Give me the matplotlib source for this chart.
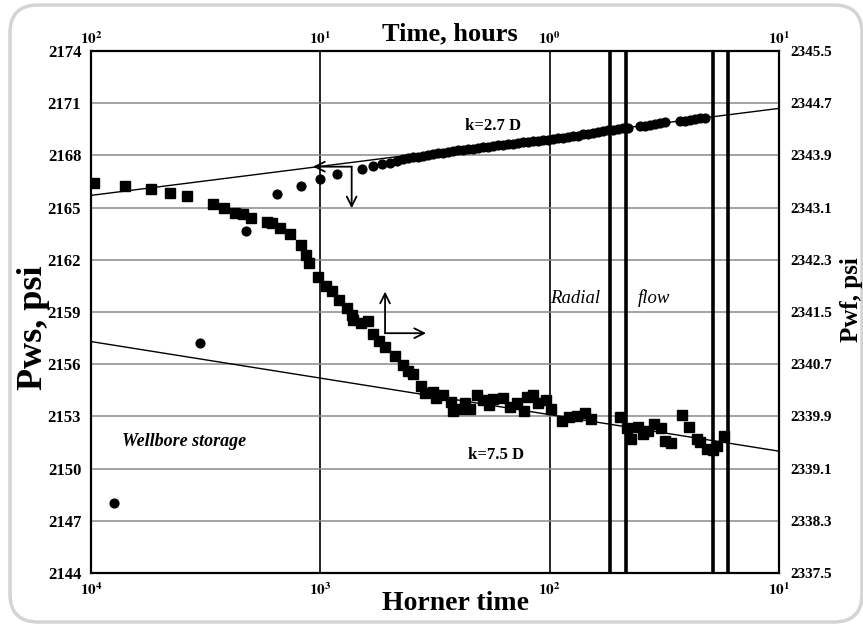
import matplotlib
matplotlib.use('Agg')
import matplotlib.pyplot as plt
from matplotlib.patches import FancyBboxPatch
from matplotlib.ticker import NullLocator
from matplotlib.transforms import IdentityTransform

plt.rcParams['font.family'] = ['Liberation Serif', 'DejaVu Serif']
plt.rcParams['mathtext.fontset'] = 'stix'

# buildup: Horner time vs Pws (left / bottom axes)
circ_h = [7940, 3350, 2100, 1540, 1210, 1000, 850, 660, 587, 540, 497, 464,
          436, 415, 394, 375, 357, 339, 323, 307, 292, 277,
          264, 251, 239, 227, 216, 205, 195, 186, 177, 168,
          160, 152, 144, 137, 131, 124, 118, 112, 107, 102,
          96.6, 91.9, 87.4, 83.1, 79.1, 75.2, 71.5, 68.0, 64.7, 61.5,
          58.5, 55.6, 52.9, 50.3, 47.9, 45.5,
          40.4, 38.4, 36.5, 34.7, 33.0, 31.4,
          27.0, 25.7, 24.4, 23.2, 22.1, 21.0]
circ_p = [2148.0, 2157.24, 2163.67, 2165.76, 2166.26, 2166.63, 2166.93, 2167.22, 2167.41, 2167.49, 2167.58, 2167.68,
          2167.78, 2167.83, 2167.89, 2167.93, 2167.98, 2168.02, 2168.06, 2168.11, 2168.16, 2168.21,
          2168.25, 2168.29, 2168.31, 2168.35, 2168.39, 2168.43, 2168.47, 2168.50, 2168.54, 2168.57,
          2168.60, 2168.64, 2168.67, 2168.71, 2168.75, 2168.78, 2168.81, 2168.84, 2168.86, 2168.89,
          2168.92, 2168.97, 2169.00, 2169.04, 2169.10, 2169.14, 2169.20, 2169.25, 2169.29, 2169.34,
          2169.39, 2169.43, 2169.47, 2169.51, 2169.55, 2169.59,
          2169.66, 2169.70, 2169.75, 2169.80, 2169.86, 2169.90,
          2169.95, 2169.98, 2170.03, 2170.07, 2170.12, 2170.16]

# drawdown: time (hours) vs Pwf (right / top axes)
sq_t = [97.0, 71.1, 54.7, 45.1, 38.0, 29.5, 26.2, 23.6, 21.7, 20.1,
        17.1, 16.2, 15.0, 13.5, 12.1, 11.6, 11.2, 10.2, 9.44, 8.92,
        8.26, 7.67, 7.30, 7.18, 6.66, 6.21, 5.91, 5.53, 5.22, 4.72,
        4.35, 4.16, 3.95, 3.64, 3.49, 3.23, 3.14, 2.93, 2.70, 2.63,
        2.46, 2.34, 2.22, 2.08, 1.95, 1.83, 1.76, 1.59, 1.49, 1.39,
        1.30, 1.25, 1.18, 1.12, 1.04, 0.989, 0.886, 0.821, 0.757, 0.701,
        0.662, 0.493, 0.458, 0.443, 0.410, 0.390, 0.371, 0.350, 0.328, 0.314,
        0.296, 0.265, 0.248, 0.227, 0.221, 0.206, 0.194, 0.186, 0.174]
sq_p = [2343.48, 2343.43, 2343.39, 2343.33, 2343.28, 2343.15, 2343.10, 2343.02, 2343.00, 2342.94,
        2342.88, 2342.86, 2342.79, 2342.69, 2342.53, 2342.37, 2342.25, 2342.03, 2341.90, 2341.82,
        2341.68, 2341.56, 2341.45, 2341.37, 2341.33, 2341.36, 2341.17, 2341.06, 2340.96, 2340.83,
        2340.68, 2340.59, 2340.55, 2340.37, 2340.26, 2340.28, 2340.18, 2340.23, 2340.12, 2339.99,
        2340.02, 2340.11, 2340.02, 2340.23, 2340.15, 2340.07, 2340.16, 2340.18, 2340.05, 2340.10,
        2339.99, 2340.20, 2340.23, 2340.10, 2340.15, 2340.01, 2339.83, 2339.89, 2339.91, 2339.95,
        2339.86, 2339.89, 2339.72, 2339.55, 2339.74, 2339.63, 2339.67, 2339.79, 2339.72, 2339.53,
        2339.49, 2339.92, 2339.74, 2339.56, 2339.51, 2339.40, 2339.39, 2339.45, 2339.60]

# straight-line fits (Horner time ends, psi)
fit_h = [1e4, 1e1]
fit_k27 = [2165.7, 2170.7]
fit_k75 = [2157.3, 2151.0]

# radial flow window boundaries (Horner time)
bounds_h = [54.5, 46.7, 19.4, 16.7]

left_ticks = [2144, 2147, 2150, 2153, 2156, 2159, 2162, 2165, 2168, 2171, 2174]
right_ticks = [2337.5, 2338.3, 2339.1, 2339.9, 2340.7, 2341.5, 2342.3, 2343.1, 2343.9, 2344.7, 2345.5]
bottom_ticks = [1e4, 1e3, 1e2, 1e1]
bottom_labels = [r'$\mathbf{10^{4}}$', r'$\mathbf{10^{3}}$', r'$\mathbf{10^{2}}$', r'$\mathbf{10^{1}}$']
top_ticks = [1e2, 1e1, 1e0, 1e-1]
top_labels = [r'$\mathbf{10^{2}}$', r'$\mathbf{10^{1}}$', r'$\mathbf{10^{0}}$', r'$\mathbf{10^{1}}$']

fig = plt.figure(figsize=(8.63, 6.30), dpi=100)
rect = [0.1054, 0.0905, 0.7973, 0.8286]

ax = fig.add_axes(rect)
ax.set_xscale('log')
ax.set_xlim(1e4, 1e1)
ax.set_ylim(2144, 2174)
ax.set_xticks(bottom_ticks)
ax.set_xticklabels(bottom_labels, fontsize=11)
ax.xaxis.set_minor_locator(NullLocator())
ax.set_yticks(left_ticks)
ax.set_yticklabels([str(v) for v in left_ticks], fontsize=12, fontweight='bold')
ax.tick_params(axis='both', length=0)
ax.tick_params(axis='y', pad=7)
ax.tick_params(axis='x', pad=6)
ax.yaxis.grid(True, color='#8a8a8a', lw=1.1)
ax.xaxis.grid(True, color='black', lw=1.2)
ax.set_axisbelow(True)
for s in ax.spines.values():
    s.set_linewidth(1.6)

ax.plot(fit_h, fit_k27, color='black', lw=1.0, zorder=2)
ax.plot(fit_h, fit_k75, color='black', lw=1.0, zorder=2)
ax.plot(circ_h, circ_p, 'o', color='black', ms=6.3, zorder=3)
for b in bounds_h:
    ax.axvline(b, color='black', lw=2.6, zorder=4)

# arrows pointing to the axes each series belongs to
arr = dict(arrowstyle='->,head_length=0.7,head_width=0.35', lw=1.3, color='black', shrinkA=0, shrinkB=0)
ax.annotate('', xy=(1076, 2167.35), xytext=(730, 2167.35), arrowprops=arr)
ax.annotate('', xy=(730, 2164.96), xytext=(730, 2167.35), arrowprops=arr)
ax.annotate('', xy=(522, 2160.17), xytext=(522, 2157.78), arrowprops=arr)
ax.annotate('', xy=(346, 2157.78), xytext=(522, 2157.78), arrowprops=arr)

ax.text(177, 2169.69, 'k=2.7 D', fontsize=12, fontweight='bold', ha='center', va='center')
ax.text(171, 2150.78, 'k=7.5 D', fontsize=12, fontweight='bold', ha='center', va='center')
ax.text(3926, 2151.53, 'Wellbore storage', fontsize=13, fontweight='bold', style='italic',
        ha='center', va='center')
ax.text(100, 2159.8, 'Radial', fontsize=13.5, style='italic', ha='left', va='center')
ax.text(41.2, 2159.8, 'flow', fontsize=13.5, style='italic', ha='left', va='center')

ax2 = fig.add_axes(rect, frameon=False)
ax2.patch.set_visible(False)
ax2.set_xscale('log')
ax2.set_xlim(1e2, 1e-1)
ax2.set_ylim(2337.5, 2345.5)
ax2.xaxis.tick_top()
ax2.yaxis.tick_right()
ax2.set_xticks(top_ticks)
ax2.set_xticklabels(top_labels, fontsize=11)
ax2.xaxis.set_minor_locator(NullLocator())
ax2.set_yticks(right_ticks)
ax2.set_yticklabels(['%.1f' % v for v in right_ticks], fontsize=11, fontweight='bold')
ax2.tick_params(axis='both', length=0)
ax2.tick_params(axis='y', pad=8)
ax2.tick_params(axis='x', pad=3)
ax2.plot(sq_t, sq_p, 's', color='black', ms=6.5, zorder=3)

fig.text(450 / 863, 1 - 34 / 630, 'Time, hours', fontsize=19, fontweight='bold', ha='center', va='center')
fig.text(456 / 863, 1 - 603 / 630, 'Horner time', fontsize=20, fontweight='bold', ha='center', va='center')
fig.text(33 / 863, 1 - 328 / 630, 'Pws, psi', fontsize=26, fontweight='bold', rotation=90,
         ha='center', va='center')
fig.text(851 / 863, 1 - 300 / 630, 'Pwf, psi', fontsize=18, fontweight='bold', rotation=90,
         ha='center', va='center')

# rounded grey frame around the figure
frame = FancyBboxPatch((10, 8), 852, 617, boxstyle='round,pad=0,rounding_size=28',
                       transform=IdentityTransform(), fill=False, ec='#d4d4d4', lw=2.5)
fig.patches.append(frame)

fig.savefig('out.png', dpi=100)
